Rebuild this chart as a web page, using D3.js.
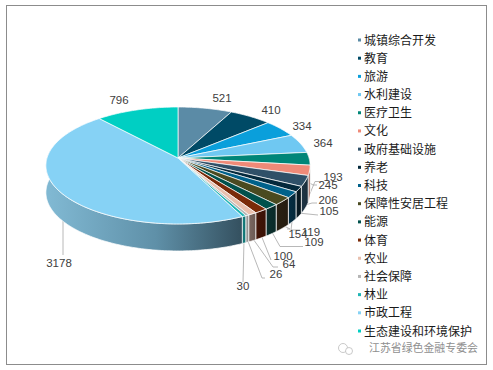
<!DOCTYPE html>
<html>
<head>
<meta charset="utf-8">
<script src="https://cdn.jsdelivr.net/npm/d3@7"></script>
<style>
html, body { margin: 0; padding: 0; background: #fff; }
svg { display: block; }
text { font-family: "Liberation Sans", Arial, sans-serif; }
.legend text { font-family: "Noto Sans CJK SC", sans-serif; font-size: 12px; fill: #1a1a1a; }
</style>
</head>
<body>
<div id="chart"></div>
<script>
const categories = ["城镇综合开发", "教育", "旅游", "水利建设", "医疗卫生", "文化", "政府基础设施", "养老", "科技", "保障性安居工程", "能源", "体育", "农业", "社会保障", "林业", "市政工程", "生态建设和环境保护"];
const values = [521, 410, 334, 364, 245, 193, 206, 105, 119, 154, 109, 100, 64, 26, 30, 3178, 796];
const colors = ["#5b8ba6", "#004a66", "#0a9fdb", "#6fc8f2", "#008678", "#ef8a78", "#2f5068", "#04293c", "#00618a", "#4a4a20", "#00514c", "#7a2a08", "#e8c0ae", "#b5b5b5", "#1fb5b5", "#86d2f5", "#00cfc3"];
const rimColors = ["#3a5a6c", "#002c3e", "#06608a", "#457f9a", "#003f38", "#8a4a3e", "#1b2e3c", "#07171f", "#04283a", "#241c10", "#0a2a28", "#3a1206", "#6b5a54", "#8a8a8a", "#127070", "#5f90a8", "#007a72"];

// hand placed: text centre and baseline, then the leader's knee
const labelPos = [[222, 102], [271, 114], [302, 130], [323, 147], [328, 189], [333, 181], [328, 204], [329, 215], [311, 236], [298, 238], [314, 246], [283, 260], [289, 268], [276, 278], [243, 290], [59, 267], [119, 104]];
const leaderKnee = [null, null, null, null, [313, 185], [315, 181.5], [312, 203], [318, 215], [291, 230], [290, 229], [280, 246.5], [271, 260], [273, 267], [262, 278], [243, 282], [63, 255], null];
const noTail = [11, 14, 15]; // these leaders stop at the knee

const width = 493, height = 370;
const cx = 178, cy = 158, rx = 131, ry = 57.5, persp = 0.128, depth = 27;

// tilted circle with a bit of perspective, back is smaller than front
function project(a) {
    const u = Math.sin(a), v = -Math.cos(a);
    const s = 1 / (1 - persp * v);
    return [cx + rx * u * s, cy + ry * v * s];
}

const svg = d3.select("#chart").append("svg").attr("width", width).attr("height", height);
svg.append("rect").attr("x", 6.5).attr("y", 5.5).attr("width", 480).attr("height", 359)
    .attr("fill", "#fff").attr("stroke", "#8c8c8c").attr("stroke-width", 1);

const arcs = d3.pie().sort(null).value(d => d)(values);
const line = d3.line();
const defs = svg.append("defs");

function edge(a0, a1, dy = 0) {
    const n = Math.max(2, Math.ceil(Math.abs(a1 - a0) / 0.02));
    return d3.range(n + 1).map(i => {
        const p = project(a0 + (a1 - a0) * i / n);
        return [p[0], p[1] + dy];
    });
}

// leader lines go under the pie so they start behind the rim
const leaders = svg.append("g");
arcs.forEach((d, i) => {
    if (!leaderKnee[i]) return;
    const [lx] = labelPos[i];
    const mid = (d.startAngle + d.endAngle) / 2;
    const p = project(mid);
    const knee = leaderKnee[i];
    const start = i === 15 ? [knee[0], p[1] + depth - 3] : [p[0], p[1] + depth - 3];
    const end = noTail.includes(i) ? knee : [lx + (lx > knee[0] ? -11 : 14), knee[1]];
    leaders.append("path")
        .attr("d", line([start, knee, end]))
        .attr("fill", "none").attr("stroke", "#a6a6a6").attr("stroke-width", 0.8);
});

// rim first, only the front facing part is visible
const rim = svg.append("g");
arcs.forEach((d, i) => {
    const a0 = Math.max(d.startAngle, Math.PI / 2 - 0.13), a1 = Math.min(d.endAngle, 3 * Math.PI / 2 + 0.13);
    if (a1 <= a0) return;
    const top = edge(a0, a1), bottom = edge(a1, a0, depth);
    const grad = defs.append("linearGradient").attr("id", `rim${i}`)
        .attr("gradientUnits", "userSpaceOnUse")
        .attr("x1", top[0][0]).attr("x2", top[top.length - 1][0]);
    if (values[i] > 1000) {
        grad.append("stop").attr("offset", 0).attr("stop-color", "#34505f");
        grad.append("stop").attr("offset", 0.45).attr("stop-color", "#5f90a8");
        grad.append("stop").attr("offset", 1).attr("stop-color", "#80b8d2");
    } else {
        grad.append("stop").attr("offset", 0).attr("stop-color", rimColors[i]);
        grad.append("stop").attr("offset", 1).attr("stop-color", d3.color(rimColors[i]).brighter(0.4));
    }
    rim.append("path").attr("d", line(top.concat(bottom)) + "Z")
        .attr("fill", `url(#rim${i})`).attr("stroke", "#fff").attr("stroke-width", 0.7);
});

// top face
svg.append("g").selectAll("path").data(arcs).join("path")
    .attr("d", d => line([[cx, cy]].concat(edge(d.startAngle, d.endAngle))) + "Z")
    .attr("fill", (d, i) => colors[i]).attr("stroke", "#fff").attr("stroke-width", 0.7);

// value labels
svg.append("g").selectAll("text").data(values).join("text")
    .attr("x", (d, i) => labelPos[i][0]).attr("y", (d, i) => labelPos[i][1])
    .attr("text-anchor", "middle").attr("font-size", 11.5).attr("fill", "#404040")
    .text(d => d);

// legend
const legend = svg.append("g").attr("class", "legend").attr("transform", "translate(358,0)");
const row = d3.scalePoint().domain(categories).range([40, 331]);
const rows = legend.selectAll("g").data(categories).join("g")
    .attr("transform", d => `translate(0,${row(d)})`);
rows.append("rect").attr("x", 0).attr("y", -1.5).attr("width", 3).attr("height", 3)
    .attr("fill", (d, i) => colors[i]);
rows.append("text").attr("x", 6).attr("y", 4.5).text(d => d);

// watermark
const mark = svg.append("g");
mark.append("circle").attr("cx", 343).attr("cy", 348).attr("r", 4.5).attr("fill", "#fff").attr("stroke", "#bbb").attr("stroke-width", 0.8);
mark.append("circle").attr("cx", 349).attr("cy", 351).attr("r", 3.5).attr("fill", "#fff").attr("stroke", "#bbb").attr("stroke-width", 0.8);
mark.append("text").attr("x", 369).attr("y", 352).attr("font-size", 10.9)
    .attr("fill", "#8f8f8f").style("font-family", "'Noto Sans CJK SC', sans-serif").text("江苏省绿色金融专委会");
</script>
</body>
</html>
